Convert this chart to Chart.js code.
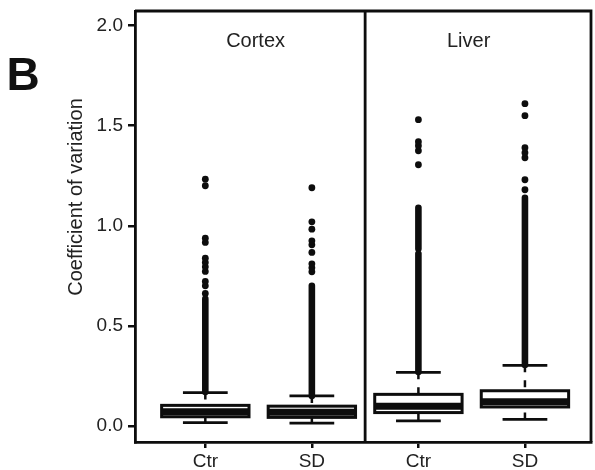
<!DOCTYPE html>
<html>
<head>
<meta charset="utf-8">
<script src="https://cdn.jsdelivr.net/npm/chart.js@4.4.1/dist/chart.umd.min.js"></script>
<style>
  html, body { margin: 0; padding: 0; background: #fff; }
  #wrap { width: 595px; height: 470px; }
</style>
</head>
<body>
<div id="wrap"><canvas id="cvChart" width="595" height="470"></canvas></div>
<script>
// ---------------------------------------------
// DATA
// ---------------------------------------------
const groupLabels = ['Ctr', 'SD', 'Ctr', 'SD'];
const panelLabels = ['Cortex', 'Liver'];
const yTickValues = [0, 0.5, 1.0, 1.5, 2.0];

const whiskerLow  = [0.017, 0.014, 0.026, 0.033];
const q1          = [0.046, 0.043, 0.067, 0.095];
const median      = [0.071, 0.068, 0.098, 0.121];
const q3          = [0.103, 0.099, 0.158, 0.176];
const whiskerHigh = [0.167, 0.150, 0.268, 0.303];

// runs of outliers so dense they merge into a solid column
const denseOutliers = [
    [[0.17, 0.635]],
    [[0.15, 0.70]],
    [[0.27, 0.86], [0.885, 1.09]],
    [[0.305, 1.14]]
];
// separate outlier points above the dense runs
const sparseOutliers = [
    [0.662, 0.70, 0.722, 0.772, 0.795, 0.817, 0.838, 0.917, 0.938, 1.20, 1.233],
    [0.77, 0.79, 0.81, 0.867, 0.905, 0.925, 0.983, 1.02, 1.19],
    [1.305, 1.375, 1.40, 1.42, 1.53],
    [1.18, 1.23, 1.34, 1.365, 1.39, 1.55, 1.61]
];

const INK = '#0d0d0d';
const TEXT = '#222';
const FONT = "'Liberation Sans', Arial, sans-serif";

// ---------------------------------------------
// BOX PLOT + FRAME + TEXT
// ---------------------------------------------
const boxPlotPlugin = {
    id: 'boxPlot',
    beforeDatasetsDraw(chart) {
        const { ctx, scales: { x, y } } = chart;
        const unit = x.getPixelForValue(1) - x.getPixelForValue(0);
        const boxHalf = unit * 0.41;
        const capHalf = unit * 0.21;

        ctx.save();
        ctx.strokeStyle = INK;
        groupLabels.forEach((g, i) => {
            const cx = x.getPixelForValue(i);
            const yLo = y.getPixelForValue(whiskerLow[i]);
            const yQ1 = y.getPixelForValue(q1[i]);
            const yMed = y.getPixelForValue(median[i]);
            const yQ3 = y.getPixelForValue(q3[i]);
            const yHi = y.getPixelForValue(whiskerHigh[i]);

            // whiskers (dashed, starting at the caps)
            ctx.lineWidth = 2.5;
            ctx.setLineDash([7, 8]);
            ctx.beginPath();
            ctx.moveTo(cx, yHi); ctx.lineTo(cx, yQ3);
            ctx.moveTo(cx, yLo); ctx.lineTo(cx, yQ1);
            ctx.stroke();
            ctx.setLineDash([]);

            // caps
            ctx.lineWidth = 2.8;
            ctx.beginPath();
            ctx.moveTo(cx - capHalf, yHi); ctx.lineTo(cx + capHalf, yHi);
            ctx.moveTo(cx - capHalf, yLo); ctx.lineTo(cx + capHalf, yLo);
            ctx.stroke();

            // box
            ctx.fillStyle = '#fff';
            ctx.fillRect(cx - boxHalf, yQ3, boxHalf * 2, yQ1 - yQ3);
            ctx.lineWidth = 3;
            ctx.strokeRect(cx - boxHalf, yQ3, boxHalf * 2, yQ1 - yQ3);

            // median
            ctx.lineWidth = 7;
            ctx.beginPath();
            ctx.moveTo(cx - boxHalf, yMed); ctx.lineTo(cx + boxHalf, yMed);
            ctx.stroke();
        });
        ctx.restore();
    },
    afterDraw(chart) {
        const { ctx, chartArea: a, scales: { x } } = chart;
        ctx.save();

        // top / right frame and panel divider
        ctx.strokeStyle = INK;
        ctx.lineWidth = 2.8;
        ctx.beginPath();
        ctx.moveTo(a.left, a.top); ctx.lineTo(a.right, a.top); ctx.lineTo(a.right, a.bottom);
        const xDiv = x.getPixelForValue(1.5);
        ctx.moveTo(xDiv, a.top); ctx.lineTo(xDiv, a.bottom);
        ctx.stroke();

        // panel titles
        ctx.fillStyle = TEXT;
        ctx.font = `20px ${FONT}`;
        ctx.textAlign = 'center';
        ctx.textBaseline = 'middle';
        panelLabels.forEach((p, k) => {
            ctx.fillText(p, x.getPixelForValue(k * 2 + 0.5) - 3, a.top + 30);
        });

        // y title
        ctx.save();
        ctx.translate(76, 197);
        ctx.rotate(-Math.PI / 2);
        ctx.fillText('Coefficient of variation', 0, 0);
        ctx.restore();

        // panel letter
        ctx.fillStyle = '#111';
        ctx.font = `bold 46px ${FONT}`;
        ctx.fillText('B', 23, 77);
        ctx.restore();
    }
};

// ---------------------------------------------
// CHART
// ---------------------------------------------
function buildDatasets() {
    const dense = denseOutliers.flatMap((runs, i) => runs.map(r => ({
        type: 'line',
        data: [{ x: i, y: r[0] }, { x: i, y: r[1] }],
        showLine: true,
        borderColor: INK,
        borderWidth: 6.6,
        borderCapStyle: 'round',
        pointRadius: 0
    })));
    const sparse = {
        type: 'scatter',
        data: sparseOutliers.flatMap((vals, i) => vals.map(v => ({ x: i, y: v }))),
        pointRadius: 3.4,
        pointBackgroundColor: INK,
        pointBorderWidth: 0
    };
    return [...dense, sparse];
}

function noEdgePadding(scale) {
    scale.paddingTop = 0;
    scale.paddingBottom = 0;
    scale.paddingLeft = 0;
    scale.paddingRight = 0;
}

new Chart(document.getElementById('cvChart'), {
    type: 'scatter',
    data: { datasets: buildDatasets() },
    plugins: [boxPlotPlugin],
    options: {
        responsive: false,
        animation: false,
        layout: { padding: { top: 11, right: 2, left: 0, bottom: 0 } },
        plugins: { legend: { display: false }, tooltip: { enabled: false } },
        scales: {
            x: {
                type: 'linear',
                min: -0.66,
                max: 3.62,
                afterBuildTicks: (scale) => { scale.ticks = groupLabels.map((g, i) => ({ value: i })); },
                afterFit: (scale) => { scale.height = 28; noEdgePadding(scale); },
                ticks: {
                    autoSkip: false,
                    maxRotation: 0,
                    padding: 2,
                    color: TEXT,
                    font: { family: FONT, size: 19 },
                    callback: (v, i) => groupLabels[i]
                },
                grid: { drawOnChartArea: false, drawTicks: true, tickLength: 6, color: INK, lineWidth: 2.5 },
                border: { display: true, color: INK, width: 2.8 }
            },
            y: {
                type: 'linear',
                min: -0.08,
                max: 2.073,
                afterBuildTicks: (scale) => { scale.ticks = yTickValues.map(v => ({ value: v })); },
                afterFit: (scale) => { scale.width = 135; noEdgePadding(scale); },
                ticks: {
                    padding: 5,
                    color: TEXT,
                    font: { family: FONT, size: 19 },
                    callback: (v) => Number(v).toFixed(1)
                },
                grid: { drawOnChartArea: false, drawTicks: true, tickLength: 7, color: INK, lineWidth: 2.5 },
                border: { display: true, color: INK, width: 2.8 }
            }
        }
    }
});
</script>
</body>
</html>
